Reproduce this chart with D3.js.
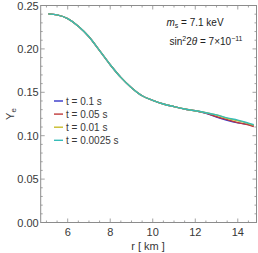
<!DOCTYPE html>
<html>
<head>
<meta charset="utf-8">
<script src="https://cdn.jsdelivr.net/npm/d3@7"></script>
<style>
  body { margin: 0; background: #fff; }
  svg { display: block; font-family: "Liberation Sans", Arial, sans-serif; }
</style>
</head>
<body>
<div id="chart"></div>
<script>
// radius grid [km]
const radius = [5.09, 5.5, 6.0, 6.5, 7.0, 7.5, 8.0, 8.5, 9.0, 9.5, 10.0, 10.5, 11.0, 11.5, 12.0, 12.5, 13.0, 13.5, 14.0, 14.5, 14.75]

// Ye profiles for each time
const ye01 = [0.2404, 0.2392, 0.2350, 0.2262, 0.2140, 0.1980, 0.1818, 0.1672, 0.1553, 0.1460, 0.1408, 0.1365, 0.1335, 0.1308, 0.1287, 0.1258, 0.1215, 0.1178, 0.1148, 0.1128, 0.1112]
const ye005 = [0.2404, 0.2392, 0.2350, 0.2262, 0.2140, 0.1980, 0.1818, 0.1672, 0.1553, 0.1460, 0.1408, 0.1365, 0.1335, 0.1308, 0.1287, 0.1262, 0.1220, 0.1185, 0.1150, 0.1125, 0.1106]
const ye001 = [0.2404, 0.2392, 0.2350, 0.2262, 0.2140, 0.1980, 0.1818, 0.1672, 0.1553, 0.1460, 0.1408, 0.1365, 0.1335, 0.1308, 0.1288, 0.1265, 0.1238, 0.1200, 0.1172, 0.1140, 0.1120]
const ye00025 = [0.2404, 0.2392, 0.2350, 0.2262, 0.2140, 0.1980, 0.1818, 0.1672, 0.1553, 0.1460, 0.1408, 0.1365, 0.1335, 0.1308, 0.1288, 0.1265, 0.1240, 0.1205, 0.1180, 0.1145, 0.1126]

const seriesNames = ['t = 0.1 s', 't = 0.05 s', 't = 0.01 s', 't = 0.0025 s']
const seriesColors = ['#3434c8', '#c03a3a', '#c8bc2a', '#36bcb8']

const xTicks = [6, 8, 10, 12, 14]
const yTicks = [0, 0.05, 0.1, 0.15, 0.2, 0.25]

const series = [ye01, ye005, ye001, ye00025].map((vals, i) => ({
    name: seriesNames[i],
    color: seriesColors[i],
    values: radius.map((r, j) => ({ r: r, ye: vals[j] }))
}))

const width = 258
const height = 253
const margin = { top: 5.5, right: 1.5, bottom: 30.5, left: 40.7 }

const svg = d3.select('#chart').append('svg')
    .attr('width', width)
    .attr('height', height)

const x = d3.scaleLinear()
    .domain([4.73, 14.88])
    .range([margin.left, width - margin.right])

const y = d3.scaleLinear()
    .domain([0, 0.25])
    .range([height - margin.bottom, margin.top])

const frameColor = '#8c8c8c'
const labelColor = '#383838'

// minor / major ticks on all four sides, pointing in
const xMinor = d3.range(5, 14.9, 0.5).filter(v => v % 2 !== 0)
const yMinor = d3.range(0, 0.2501, 0.01).filter(v => Math.abs(v / 0.05 - Math.round(v / 0.05)) > 1e-6)

const ticksG = svg.append('g').attr('stroke', frameColor).attr('stroke-width', 0.8)

function xTickLines(vals, len) {
    ticksG.selectAll(null).data(vals).enter().append('line')
        .attr('x1', d => x(d)).attr('x2', d => x(d))
        .attr('y1', y(0)).attr('y2', y(0) - len)
    ticksG.selectAll(null).data(vals).enter().append('line')
        .attr('x1', d => x(d)).attr('x2', d => x(d))
        .attr('y1', y(0.25)).attr('y2', y(0.25) + len)
}
function yTickLines(vals, len) {
    ticksG.selectAll(null).data(vals).enter().append('line')
        .attr('y1', d => y(d)).attr('y2', d => y(d))
        .attr('x1', x.range()[0]).attr('x2', x.range()[0] + len)
    ticksG.selectAll(null).data(vals).enter().append('line')
        .attr('y1', d => y(d)).attr('y2', d => y(d))
        .attr('x1', x.range()[1]).attr('x2', x.range()[1] - len)
}
xTickLines(xTicks, 4)
xTickLines(xMinor, 2)
yTickLines(yTicks, 4)
yTickLines(yMinor, 2)

// curves
const line = d3.line()
    .x(d => x(d.r))
    .y(d => y(d.ye))
    .curve(d3.curveMonotoneX)

svg.append('g').selectAll('path')
    .data(series)
    .enter().append('path')
    .attr('d', d => line(d.values))
    .attr('fill', 'none')
    .attr('stroke', d => d.color)
    .attr('stroke-width', 1.4)

// frame
svg.append('rect')
    .attr('x', x.range()[0])
    .attr('y', y(0.25))
    .attr('width', x.range()[1] - x.range()[0])
    .attr('height', y(0) - y(0.25))
    .attr('fill', 'none')
    .attr('stroke', frameColor)
    .attr('stroke-width', 1)

// tick labels
svg.append('g').selectAll('text')
    .data(xTicks)
    .enter().append('text')
    .attr('x', d => x(d))
    .attr('y', y(0) + 13)
    .attr('text-anchor', 'middle')
    .attr('font-size', 11)
    .attr('fill', labelColor)
    .text(d => d)

svg.append('g').selectAll('text')
    .data(yTicks)
    .enter().append('text')
    .attr('x', x.range()[0] - 2)
    .attr('y', d => y(d) + 4)
    .attr('text-anchor', 'end')
    .attr('font-size', 11)
    .attr('fill', labelColor)
    .text(d => d3.format('.2f')(d))

// axis titles
svg.append('text')
    .attr('x', 148)
    .attr('y', 250)
    .attr('text-anchor', 'middle')
    .attr('font-size', 11)
    .attr('fill', labelColor)
    .text('r [ km ]')

const yTitle = svg.append('text')
    .attr('transform', 'translate(14,' + y(0.125) + ') rotate(-90)')
    .attr('text-anchor', 'middle')
    .attr('font-size', 11)
    .attr('fill', labelColor)
yTitle.append('tspan').text('Y')
yTitle.append('tspan').attr('font-size', 8).attr('dy', 2).text('e')

// annotation
const ann1 = svg.append('text')
    .attr('x', 195)
    .attr('y', 26)
    .attr('text-anchor', 'middle')
    .attr('font-size', 10)
    .attr('fill', '#222')
ann1.append('tspan').attr('font-style', 'italic').text('m')
ann1.append('tspan').attr('font-size', 7).attr('dy', 2).text('s')
ann1.append('tspan').attr('dy', -2).text(' = 7.1 keV')

const ann2 = svg.append('text')
    .attr('x', 206)
    .attr('y', 44.5)
    .attr('text-anchor', 'middle')
    .attr('font-size', 10)
    .attr('fill', '#222')
ann2.append('tspan').text('sin')
ann2.append('tspan').attr('font-size', 7).attr('dy', -4).text('2')
ann2.append('tspan').attr('dy', 4).text('2')
ann2.append('tspan').attr('font-style', 'italic').text('θ')
ann2.append('tspan').text(' = 7×10')
ann2.append('tspan').attr('font-size', 7).attr('dy', -4).text('−11')

// legend
const legend = svg.append('g').selectAll('g')
    .data(series)
    .enter().append('g')
    .attr('transform', (d, i) => 'translate(54,' + (101 + i * 13.1) + ')')

legend.append('line')
    .attr('x1', 0).attr('x2', 9)
    .attr('stroke', d => d.color)
    .attr('stroke-width', 1.4)

legend.append('text')
    .attr('x', 12)
    .attr('y', 3.5)
    .attr('font-size', 10)
    .attr('fill', labelColor)
    .text(d => d.name)
</script>
</body>
</html>
